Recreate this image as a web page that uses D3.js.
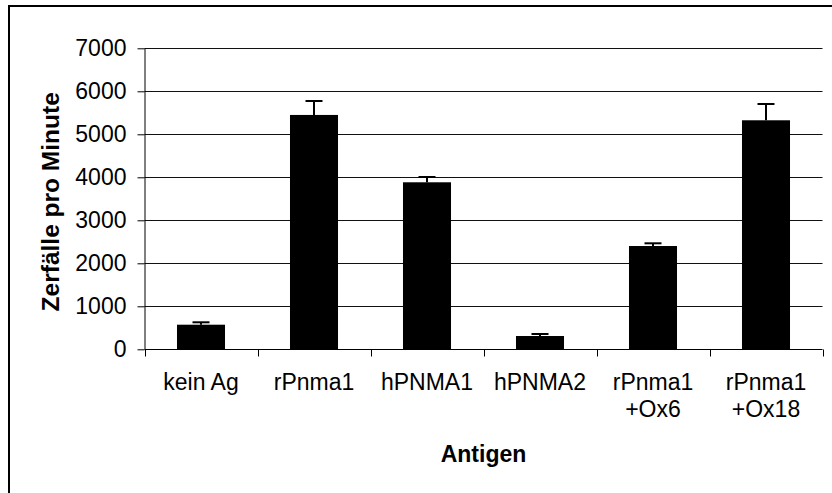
<!DOCTYPE html>
<html><head><meta charset="utf-8">
<script src="https://cdn.jsdelivr.net/npm/d3@7"></script>
<style>
html,body{margin:0;padding:0;background:#fff;}
svg{display:block;font-family:"Liberation Sans",Arial,sans-serif;}
</style></head>
<body>
<svg id="c" width="832" height="493"></svg>
<script>
const categories = [["kein Ag"],["rPnma1"],["hPNMA1"],["hPNMA2"],["rPnma1","+Ox6"],["rPnma1","+Ox18"]];
const values = [572, 5450, 3884, 309, 2402, 5326];
const errors = [56, 325, 123, 47, 63, 379];
const yTicks = [0,1000,2000,3000,4000,5000,6000,7000];
const yTitle = "Zerfälle pro Minute";
const xTitle = "Antigen";

(function(){
const svg = d3.select("#c");
const pL = 144.5, pR = 822.5, pT = 48.3, pB = 349.3;
const keys = categories.map(c => c.join(" "));
const x = d3.scaleBand().domain(keys).range([pL, pR]).paddingInner(0.575).paddingOuter(0.2875);
const y = d3.scaleLinear().domain([0, 7000]).range([pB, pT]);

// outer border
svg.append("rect").attr("x",9).attr("y",6).attr("width",900).attr("height",600)
  .attr("fill","none").attr("stroke","#000").attr("stroke-width",2);

// gridlines
svg.append("g").selectAll("line").data(yTicks.filter(d=>d>0)).join("line")
  .attr("x1",pL).attr("x2",pR)
  .attr("y1",d=>Math.round(y(d))+0.5).attr("y2",d=>Math.round(y(d))+0.5)
  .attr("stroke","#111").attr("stroke-width",1);

// bars
svg.append("g").selectAll("rect").data(values).join("rect")
  .attr("x",(d,i)=>x(keys[i])).attr("width",x.bandwidth())
  .attr("y",d=>y(d)).attr("height",d=>pB-y(d)).attr("fill","#000");

// error bars
const eg = svg.append("g").attr("stroke","#000").attr("stroke-width",2);
values.forEach((v,i)=>{
  const cx = x(keys[i]) + x.bandwidth()/2;
  eg.append("line").attr("x1",cx).attr("x2",cx).attr("y1",y(v)).attr("y2",y(v+errors[i]));
  eg.append("line").attr("x1",cx-8.5).attr("x2",cx+8.5).attr("y1",y(v+errors[i])).attr("y2",y(v+errors[i]));
});

// y axis
const ya = svg.append("g").attr("transform",`translate(${pL},0)`)
  .call(d3.axisLeft(y).tickValues(yTicks).tickSize(7).tickPadding(11).tickFormat(d3.format("d")));
ya.select(".domain").attr("stroke","#000").attr("d",`M0.5,${pT}V${pB}`);
ya.selectAll(".tick line").attr("stroke","#000");
ya.selectAll("text").attr("font-size",23).attr("fill","#000").attr("font-family","Liberation Sans, Arial, sans-serif");

// x axis
const xa = svg.append("g").attr("transform",`translate(0,${Math.round(pB)+0.5})`);
xa.append("line").attr("x1",pL).attr("x2",pR).attr("stroke","#000");
const bounds = d3.range(keys.length+1).map(i => pL + i*x.step());
xa.selectAll("line.t").data(bounds).join("line").attr("class","t")
  .attr("x1",d=>Math.round(d)+0.5).attr("x2",d=>Math.round(d)+0.5).attr("y1",0).attr("y2",7).attr("stroke","#000");

const lbl = svg.append("g").attr("font-size",23).attr("text-anchor","middle").attr("fill","#000");
categories.forEach((c,i)=>{
  const cx = x(keys[i]) + x.bandwidth()/2;
  c.forEach((line,j)=>{
    lbl.append("text").attr("x",cx).attr("y",390 + j*26.5).text(line);
  });
});

// titles
svg.append("text").attr("x",(pL+pR)/2).attr("y",462).attr("text-anchor","middle")
  .attr("font-size",23).attr("font-weight","bold").text(xTitle);
svg.append("text").attr("transform",`translate(59,${(pT+pB)/2+3}) rotate(-90)`)
  .attr("text-anchor","middle").attr("font-size",24.5).attr("font-weight","bold").text(yTitle);
})();
</script>
</body></html>
